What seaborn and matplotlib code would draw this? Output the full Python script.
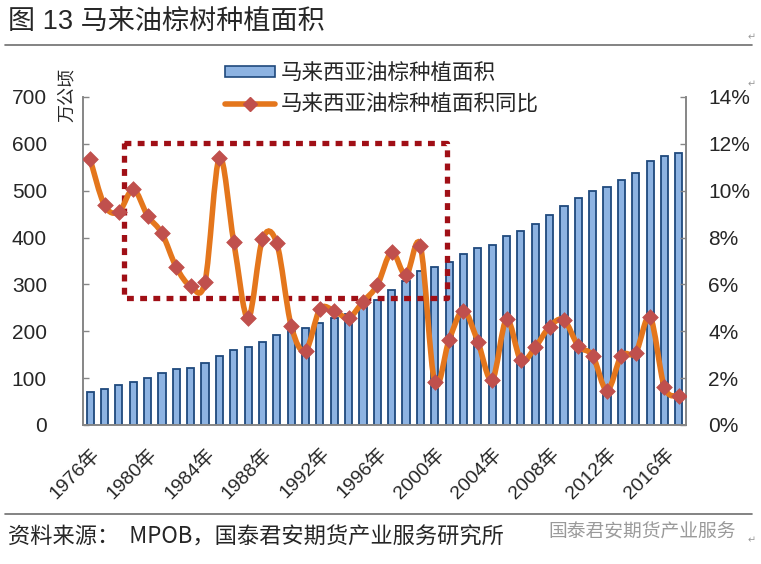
import numpy as np
import pandas as pd
import matplotlib
matplotlib.use("Agg")
import matplotlib.pyplot as plt
import seaborn as sns
from matplotlib.path import Path
from matplotlib.patches import PathPatch, Patch
from matplotlib.lines import Line2D
from matplotlib.ticker import FuncFormatter
from matplotlib.transforms import ScaledTranslation

# data
years = list(range(1976, 2018))
area = [70, 77.5, 84.5, 92, 99.5, 110, 119, 121.5, 133, 148,
        159, 166, 178, 192, 200.5, 207, 218, 229, 236, 251,
        267, 289, 307, 329, 337, 347, 366, 378, 385, 403,
        415, 430, 448, 467, 485, 500, 507, 522, 537, 563,
        574, 581]
yoy = [11.34, 9.38, 9.10, 10.06, 8.93, 8.18, 6.73, 5.93, 6.12, 11.41,
       7.82, 4.55, 7.93, 7.75, 4.23, 3.17, 4.94, 4.87, 4.58, 5.26,
       5.97, 7.38, 6.39, 7.64, 1.82, 3.63, 4.88, 3.56, 1.92, 4.51,
       2.77, 3.32, 4.20, 4.48, 3.37, 2.96, 1.47, 2.96, 3.09, 4.60,
       1.61, 1.25]
label_years = years[::4]

area_name = "马来西亚油棕种植面积"
yoy_name = "马来西亚油棕种植面积同比"
title = "图 13 马来油棕树种植面积"
source = "资料来源：  MPOB，国泰君安期货产业服务研究所"
mark = "国泰君安期货产业服务"

BAR = "#8db3e2"
BAR_EDGE = "#1f497d"
LINE = "#e4761c"
MARK = "#c0504d"
BOX = "#a00f16"
AXC = "#868686"

sns.set_style("white")
plt.rcParams["font.family"] = ["Liberation Sans Narrow", "Liberation Sans", "Noto Sans CJK SC", "DejaVu Sans"]
CJK = ["Noto Sans CJK SC", "DejaVu Sans"]


def smooth_path(x, y):
    # Excel-style smoothed line (Catmull-Rom as cubic Bezier)
    x = np.asarray(x, float)
    y = np.asarray(y, float)
    n = len(x)
    verts = [(x[0], y[0])]
    codes = [Path.MOVETO]
    for i in range(n - 1):
        p0 = i - 1 if i > 0 else i
        p3 = i + 2 if i + 2 < n else i + 1
        c1 = (x[i] + (x[i + 1] - x[p0]) / 6, y[i] + (y[i + 1] - y[p0]) / 6)
        c2 = (x[i + 1] - (x[p3] - x[i]) / 6, y[i + 1] - (y[p3] - y[i]) / 6)
        verts += [c1, c2, (x[i + 1], y[i + 1])]
        codes += [Path.CURVE4] * 3
    return Path(verts, codes)


df = pd.DataFrame({"year": years, "area": area, "yoy": yoy})
df["pos"] = np.arange(len(df))

fig = plt.figure(figsize=(7.61, 5.64), dpi=100)
ax = fig.add_axes([83 / 761, 1 - 425 / 564, (686 - 83) / 761, (425 - 97) / 564])

sns.barplot(data=df, x="year", y="area", color=BAR, saturation=1, width=0.5,
            edgecolor=BAR_EDGE, linewidth=1.3, ax=ax)
ax.set_xlim(-0.5, 41.5)
ax.set_ylim(0, 700)
ax.set_yticks(range(0, 701, 100))
ax.set_xticks(range(0, len(years), 4))
ax.set_xticklabels([f"{y}年" for y in label_years], rotation=45, ha="right",
                   rotation_mode="anchor", fontsize=14)
shift = ScaledTranslation(-4 / 72, -3 / 72, fig.dpi_scale_trans)
for lbl in ax.get_xticklabels():
    lbl.set_transform(lbl.get_transform() + shift)
ax.set_xticks(np.arange(2.5, 41.5, 3), minor=True)
ax.tick_params(axis="x", which="major", length=0, pad=14)
ax.tick_params(axis="x", which="minor", direction="in", length=4, color=AXC, width=1)
ax.tick_params(axis="y", direction="in", length=4, color=AXC, width=1, pad=26, labelsize=15)
ax.set_xlabel("")
ax.set_ylabel("")
for s in ["left", "bottom", "right"]:
    ax.spines[s].set_color(AXC)
    ax.spines[s].set_linewidth(1.2)
ax.spines["top"].set_visible(False)

# red dotted highlight box
bx = [2.37, 24.86, 24.86, 2.37, 2.37]
by = [602, 602, 271, 271, 602]
ax.plot(bx, by, color=BOX, lw=3.8, linestyle=(0, (1.3, 1.2)), dash_capstyle="butt", zorder=3)

ax2 = ax.twinx()
ax2.add_patch(PathPatch(smooth_path(df["pos"], df["yoy"]), fill=False,
                        edgecolor=LINE, lw=4.0, zorder=3, capstyle="round"))
sns.scatterplot(data=df, x="pos", y="yoy", marker="D", s=64, color=MARK,
                edgecolor=MARK, linewidth=0.5, ax=ax2, zorder=4, legend=False)
ax2.set_xlim(-0.5, 41.5)
ax2.set_ylim(0, 14)
ax2.set_yticks(range(0, 15, 2))
ax2.yaxis.set_major_formatter(FuncFormatter(lambda v, p: f"{v:.0f}%"))
ax2.tick_params(axis="y", direction="in", length=4, color=AXC, width=1, pad=16, labelsize=15)
ax2.set_ylabel("")
ax2.set_xlabel("")
for s in ["left", "bottom", "right"]:
    ax2.spines[s].set_color(AXC)
    ax2.spines[s].set_linewidth(1.2)
ax2.spines["top"].set_visible(False)

# unit label
fig.text(67 / 761, 1 - 95 / 564, "万公顷", rotation=90, ha="center", va="center",
         fontsize=13, family=CJK)

# legend
handles = [Patch(facecolor=BAR, edgecolor=BAR_EDGE, linewidth=1.2),
           Line2D([], [], color=LINE, lw=4.0, marker="D", markersize=7,
                  markerfacecolor=MARK, markeredgecolor=MARK)]
fig.legend(handles, [area_name, yoy_name], loc="upper left",
           bbox_to_anchor=(225 / 761, 1 - 62 / 564), frameon=False,
           borderpad=0, borderaxespad=0, handlelength=2.3, handleheight=0.4,
           handletextpad=0.3, labelspacing=0.45, prop={"family": CJK, "size": 15.5})

# title, rules and source
fig.text(8 / 761, 1 - 22 / 564, title, ha="left", va="center", fontsize=19.5,
         family=["Liberation Sans", "Noto Sans CJK SC"])
fig.add_artist(Line2D([5 / 761, 752 / 761], [1 - 44.5 / 564] * 2, color="#6e6e6e", lw=1.2))
fig.add_artist(Line2D([5 / 761, 752 / 761], [1 - 514 / 564] * 2, color="#6e6e6e", lw=1.2))
fig.text(8 / 761, 1 - 537 / 564, source, ha="left", va="center", fontsize=16, family=CJK)
fig.text(548 / 761, 1 - 532 / 564, mark, ha="left", va="center", fontsize=13.5,
         family=CJK, color="#9a9a9a")
for yy in [37, 84, 540]:
    fig.text(752 / 761, 1 - yy / 564, "↵", ha="center", va="center", fontsize=7,
             family="DejaVu Sans", color="#9a9a9a")

fig.savefig("out.png", dpi=100)
